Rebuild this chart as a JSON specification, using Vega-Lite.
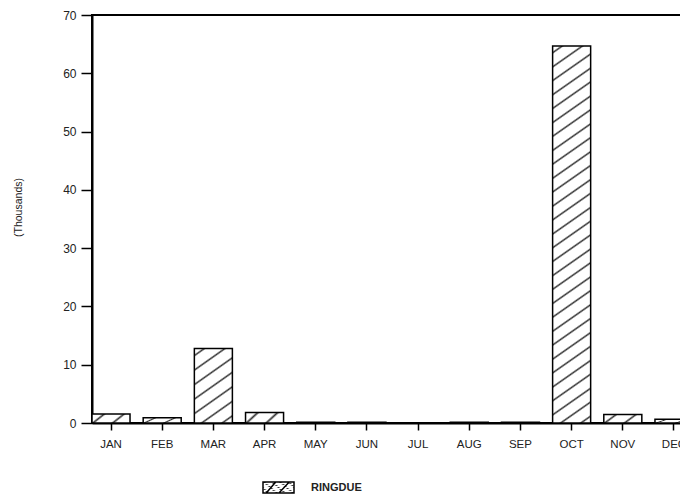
{
  "$schema": "https://vega.github.io/schema/vega-lite/v6.json",
  "width": 590,
  "height": 408,
  "autosize": "none",
  "padding": {"left": 92, "top": 15, "right": 0, "bottom": 72},
  "background": "white",
  "data": {
    "values": [
      {"month": "JAN", "value": 1.55, "series": "RINGDUE"},
      {"month": "FEB", "value": 0.9, "series": "RINGDUE"},
      {"month": "MAR", "value": 12.8, "series": "RINGDUE"},
      {"month": "APR", "value": 1.8, "series": "RINGDUE"},
      {"month": "MAY", "value": 0.15, "series": "RINGDUE"},
      {"month": "JUN", "value": 0.15, "series": "RINGDUE"},
      {"month": "JUL", "value": 0, "series": "RINGDUE"},
      {"month": "AUG", "value": 0.15, "series": "RINGDUE"},
      {"month": "SEP", "value": 0.15, "series": "RINGDUE"},
      {"month": "OCT", "value": 64.7, "series": "RINGDUE"},
      {"month": "NOV", "value": 1.45, "series": "RINGDUE"},
      {"month": "DEC", "value": 0.65, "series": "RINGDUE"}
    ]
  },
  "encoding": {
    "x": {
      "field": "month",
      "type": "nominal",
      "scale": {
        "domain": ["JAN", "FEB", "MAR", "APR", "MAY", "JUN", "JUL", "AUG", "SEP", "OCT", "NOV", "DEC"],
        "range": [0, 601],
        "paddingInner": 0.257,
        "paddingOuter": 0
      },
      "axis": {
        "title": null,
        "labelAngle": 0,
        "tickSize": 7,
        "labelPadding": 8,
        "labelFontSize": 11.5
      }
    },
    "y": {
      "field": "value",
      "type": "quantitative",
      "scale": {"domain": [0, 70], "nice": false},
      "axis": {
        "values": [0, 10, 20, 30, 40, 50, 60, 70],
        "tickSize": 11,
        "labelPadding": 5,
        "labelFontSize": 12,
        "title": "(Thousands)",
        "titleX": -74,
        "titleY": 192,
        "titleAngle": -90,
        "titleAlign": "center",
        "titleBaseline": "middle",
        "titleFontWeight": "normal",
        "titleFontSize": 10.5,
        "titleFont": "Liberation Sans",
        "titleColor": "#222"
      }
    },
    "stroke": {
      "field": "series",
      "type": "nominal",
      "scale": {"range": ["black"]},
      "legend": {
        "title": null,
        "orient": "none",
        "legendX": 170,
        "legendY": 456,
        "symbolType": "M-1,-0.36H1V0.36H-1Z M-0.79,0.36L-0.18,-0.36 M0.03,0.36L0.69,-0.36",
        "symbolSize": 961,
        "symbolStrokeWidth": 1.5,
        "symbolFillColor": "white",
        "labelFont": "Liberation Sans",
        "labelFontSize": 11,
        "labelFontWeight": "bold",
        "labelColor": "#222",
        "labelOffset": 16
      }
    }
  },
  "layer": [
    {
      "transform": [{"filter": "datum.month == 'OCT'"}],
      "mark": {
        "type": "bar",
        "strokeWidth": 1.5,
        "fill": {
          "gradient": "linear",
          "x1": 0, "y1": 0, "x2": 0.0752, "y2": 1.0653,
          "stops": [
            {"offset": 0.0125, "color": "#ffffff"}, {"offset": 0.017, "color": "#333333"}, {"offset": 0.0215, "color": "#ffffff"},
            {"offset": 0.0475, "color": "#ffffff"}, {"offset": 0.052, "color": "#333333"}, {"offset": 0.0565, "color": "#ffffff"},
            {"offset": 0.0815, "color": "#ffffff"}, {"offset": 0.086, "color": "#333333"}, {"offset": 0.0905, "color": "#ffffff"},
            {"offset": 0.1165, "color": "#ffffff"}, {"offset": 0.121, "color": "#333333"}, {"offset": 0.1255, "color": "#ffffff"},
            {"offset": 0.1505, "color": "#ffffff"}, {"offset": 0.155, "color": "#333333"}, {"offset": 0.1595, "color": "#ffffff"},
            {"offset": 0.1855, "color": "#ffffff"}, {"offset": 0.19, "color": "#333333"}, {"offset": 0.1945, "color": "#ffffff"},
            {"offset": 0.2195, "color": "#ffffff"}, {"offset": 0.224, "color": "#333333"}, {"offset": 0.2285, "color": "#ffffff"},
            {"offset": 0.2545, "color": "#ffffff"}, {"offset": 0.259, "color": "#333333"}, {"offset": 0.2635, "color": "#ffffff"},
            {"offset": 0.2885, "color": "#ffffff"}, {"offset": 0.293, "color": "#333333"}, {"offset": 0.2975, "color": "#ffffff"},
            {"offset": 0.3235, "color": "#ffffff"}, {"offset": 0.328, "color": "#333333"}, {"offset": 0.3325, "color": "#ffffff"},
            {"offset": 0.3575, "color": "#ffffff"}, {"offset": 0.362, "color": "#333333"}, {"offset": 0.3665, "color": "#ffffff"},
            {"offset": 0.3925, "color": "#ffffff"}, {"offset": 0.397, "color": "#333333"}, {"offset": 0.4015, "color": "#ffffff"},
            {"offset": 0.4265, "color": "#ffffff"}, {"offset": 0.431, "color": "#333333"}, {"offset": 0.4355, "color": "#ffffff"},
            {"offset": 0.4615, "color": "#ffffff"}, {"offset": 0.466, "color": "#333333"}, {"offset": 0.4705, "color": "#ffffff"},
            {"offset": 0.4955, "color": "#ffffff"}, {"offset": 0.5, "color": "#333333"}, {"offset": 0.5045, "color": "#ffffff"},
            {"offset": 0.5295, "color": "#ffffff"}, {"offset": 0.534, "color": "#333333"}, {"offset": 0.5385, "color": "#ffffff"},
            {"offset": 0.5645, "color": "#ffffff"}, {"offset": 0.569, "color": "#333333"}, {"offset": 0.5735, "color": "#ffffff"},
            {"offset": 0.5985, "color": "#ffffff"}, {"offset": 0.603, "color": "#333333"}, {"offset": 0.6075, "color": "#ffffff"},
            {"offset": 0.6335, "color": "#ffffff"}, {"offset": 0.638, "color": "#333333"}, {"offset": 0.6425, "color": "#ffffff"},
            {"offset": 0.6675, "color": "#ffffff"}, {"offset": 0.672, "color": "#333333"}, {"offset": 0.6765, "color": "#ffffff"},
            {"offset": 0.7025, "color": "#ffffff"}, {"offset": 0.707, "color": "#333333"}, {"offset": 0.7115, "color": "#ffffff"},
            {"offset": 0.7365, "color": "#ffffff"}, {"offset": 0.741, "color": "#333333"}, {"offset": 0.7455, "color": "#ffffff"},
            {"offset": 0.7715, "color": "#ffffff"}, {"offset": 0.776, "color": "#333333"}, {"offset": 0.7805, "color": "#ffffff"},
            {"offset": 0.8055, "color": "#ffffff"}, {"offset": 0.81, "color": "#333333"}, {"offset": 0.8145, "color": "#ffffff"},
            {"offset": 0.8405, "color": "#ffffff"}, {"offset": 0.845, "color": "#333333"}, {"offset": 0.8495, "color": "#ffffff"},
            {"offset": 0.8745, "color": "#ffffff"}, {"offset": 0.879, "color": "#333333"}, {"offset": 0.8835, "color": "#ffffff"},
            {"offset": 0.9095, "color": "#ffffff"}, {"offset": 0.914, "color": "#333333"}, {"offset": 0.9185, "color": "#ffffff"},
            {"offset": 0.9435, "color": "#ffffff"}, {"offset": 0.948, "color": "#333333"}, {"offset": 0.9525, "color": "#ffffff"},
            {"offset": 0.9785, "color": "#ffffff"}, {"offset": 0.983, "color": "#333333"}, {"offset": 0.9875, "color": "#ffffff"}
          ]
        }
      }
    },
    {
      "transform": [{"filter": "datum.month == 'MAR'"}],
      "mark": {
        "type": "bar",
        "strokeWidth": 1.5,
        "fill": {
          "gradient": "linear",
          "x1": 0, "y1": 0, "x2": 0.4328, "y2": 1.204,
          "stops": [
            {"offset": 0.053, "color": "#ffffff"}, {"offset": 0.071, "color": "#333333"}, {"offset": 0.089, "color": "#ffffff"},
            {"offset": 0.196, "color": "#ffffff"}, {"offset": 0.214, "color": "#333333"}, {"offset": 0.232, "color": "#ffffff"},
            {"offset": 0.339, "color": "#ffffff"}, {"offset": 0.357, "color": "#333333"}, {"offset": 0.375, "color": "#ffffff"},
            {"offset": 0.482, "color": "#ffffff"}, {"offset": 0.5, "color": "#333333"}, {"offset": 0.518, "color": "#ffffff"},
            {"offset": 0.625, "color": "#ffffff"}, {"offset": 0.643, "color": "#333333"}, {"offset": 0.661, "color": "#ffffff"},
            {"offset": 0.768, "color": "#ffffff"}, {"offset": 0.786, "color": "#333333"}, {"offset": 0.804, "color": "#ffffff"},
            {"offset": 0.911, "color": "#ffffff"}, {"offset": 0.929, "color": "#333333"}, {"offset": 0.947, "color": "#ffffff"}
          ]
        }
      }
    },
    {
      "transform": [{"filter": "datum.month != 'OCT' && datum.month != 'MAR'"}],
      "mark": {
        "type": "bar",
        "strokeWidth": 1.5,
        "fill": {
          "gradient": "linear",
          "x1": 0, "y1": 0, "x2": 1.193, "y2": 0.359,
          "stops": [
            {"offset": 0.197, "color": "#ffffff"}, {"offset": 0.25, "color": "#333333"}, {"offset": 0.303, "color": "#ffffff"},
            {"offset": 0.597, "color": "#ffffff"}, {"offset": 0.65, "color": "#333333"}, {"offset": 0.703, "color": "#ffffff"}
          ]
        }
      }
    }
  ],
  "config": {
    "view": {"stroke": "black", "strokeWidth": 2},
    "axis": {
      "domainColor": "black",
      "domainWidth": 2,
      "tickColor": "black",
      "tickWidth": 1.5,
      "grid": false,
      "labelFont": "Liberation Sans",
      "labelFontSize": 11,
      "labelColor": "#222"
    }
  }
}
